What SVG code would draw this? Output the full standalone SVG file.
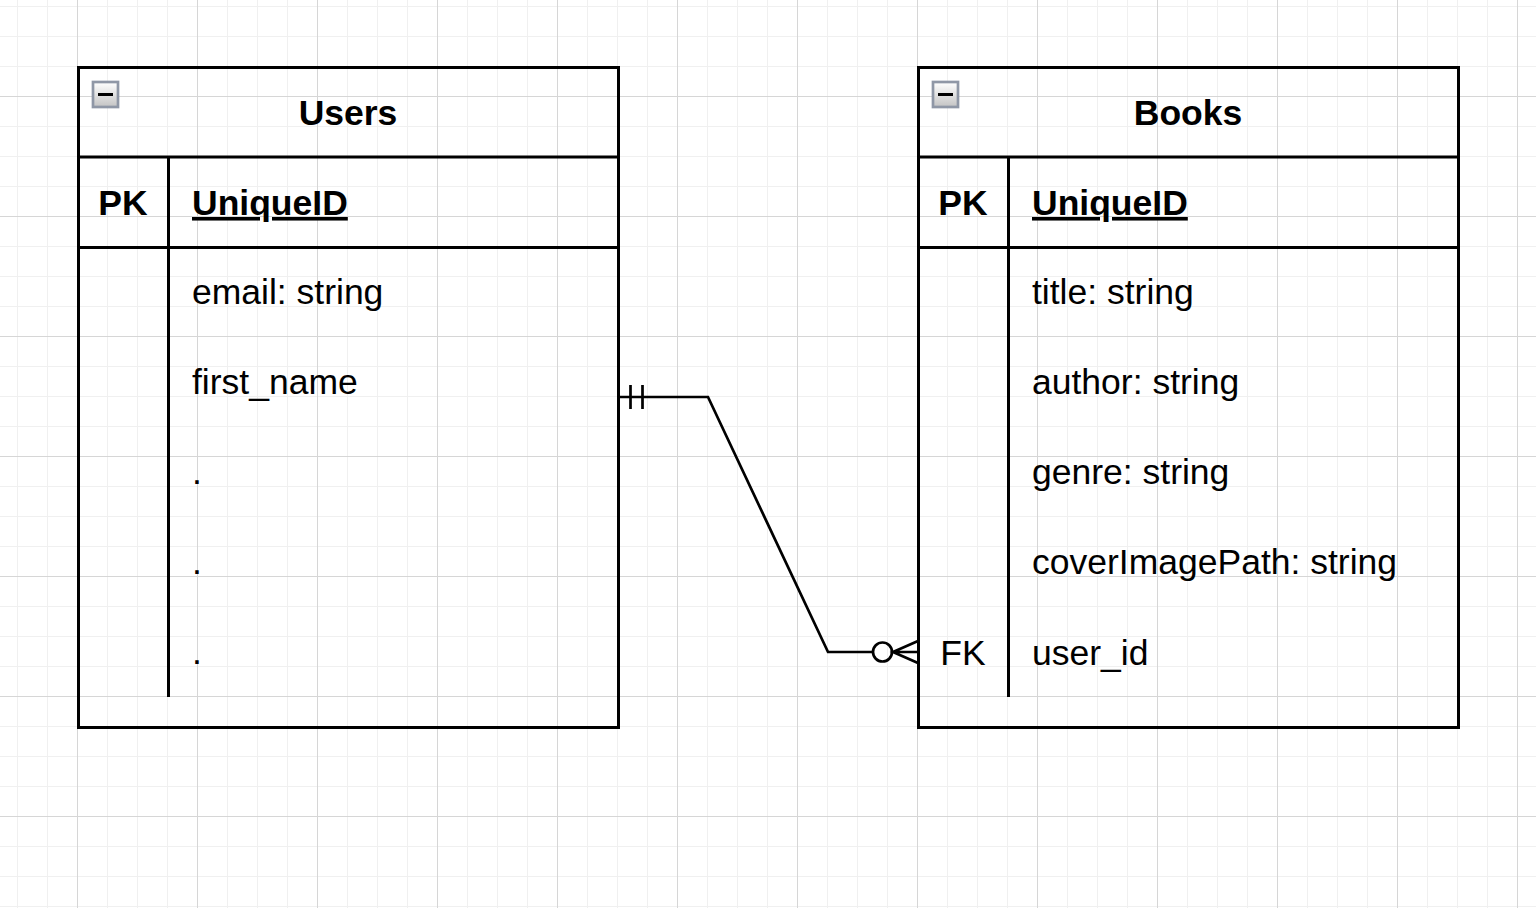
<svg xmlns="http://www.w3.org/2000/svg" width="1536" height="908" viewBox="0 0 1536 908">
<defs>
<pattern id="grid" x="77" y="96" width="120" height="120" patternUnits="userSpaceOnUse">
<path d="M30.5 0V120M60.5 0V120M90.5 0V120M0 30.5H120M0 60.5H120M0 90.5H120" stroke="#f0f0f0" stroke-width="1" fill="none"/>
<path d="M0.5 0V120M0 0.5H120" stroke="#d6d6d6" stroke-width="1" fill="none"/>
</pattern>
<linearGradient id="ig" x1="0" y1="0" x2="0" y2="1">
<stop offset="0" stop-color="#ffffff"/>
<stop offset="1" stop-color="#c4c4c4"/>
</linearGradient>
<g id="icon">
<rect x="0" y="0" width="25" height="25" fill="url(#ig)" stroke="#8f97a6" stroke-width="2.7"/>
<path d="M5 12.5H20" stroke="#000" stroke-width="3"/>
</g>
</defs>
<style>
.b{fill:none;stroke:#000;stroke-width:3}
.t{font-family:"Liberation Sans",Arial,sans-serif;font-size:35.5px;fill:#000}
.h{font-weight:bold}
.c{text-anchor:middle}
.u{text-decoration:underline}
.cn{fill:none;stroke:#000;stroke-width:2.7}
</style>
<rect width="1536" height="908" fill="#fff"/>
<rect width="1536" height="908" fill="url(#grid)"/>
<g id="users">
<rect x="78.5" y="67.5" width="540" height="660" fill="#fff" class="b"/>
<path d="M78.5 157H618.5M78.5 247.5H618.5M168.5 157V697" class="b"/>
<use href="#icon" x="93" y="82"/>
<text x="348" y="125" class="t h c">Users</text>
<text x="123" y="215" class="t h c">PK</text>
<text x="192" y="215" class="t h u">UniqueID</text>
<text x="192" y="304" class="t">email: string</text>
<text x="192" y="394" class="t">first_name</text>
<text x="192" y="484" class="t">.</text>
<text x="192" y="574" class="t">.</text>
<text x="192" y="664" class="t">.</text>
</g>
<g id="books">
<rect x="918.5" y="67.5" width="540" height="660" fill="#fff" class="b"/>
<path d="M918.5 157H1458.5M918.5 247.5H1458.5M1008.5 157V697" class="b"/>
<use href="#icon" x="933" y="82"/>
<text x="1188" y="125" class="t h c">Books</text>
<text x="963" y="215" class="t h c">PK</text>
<text x="1032" y="215" class="t h u">UniqueID</text>
<text x="1032" y="304" class="t">title: string</text>
<text x="1032" y="394" class="t">author: string</text>
<text x="1032" y="484" class="t">genre: string</text>
<text x="1032" y="574" class="t">coverImagePath: string</text>
<text x="963" y="665" class="t c">FK</text>
<text x="1032" y="665" class="t">user_id</text>
</g>
<g id="connectors">
<path d="M618.5 397H708L828 652H873" class="cn"/>
<path d="M630.5 385V409M642.5 385V409" class="cn"/>
<circle cx="882.5" cy="652" r="9.5" class="cn"/>
<path d="M918 641L893 652L918 663M892 652H918" class="cn"/>
</g>
</svg>
